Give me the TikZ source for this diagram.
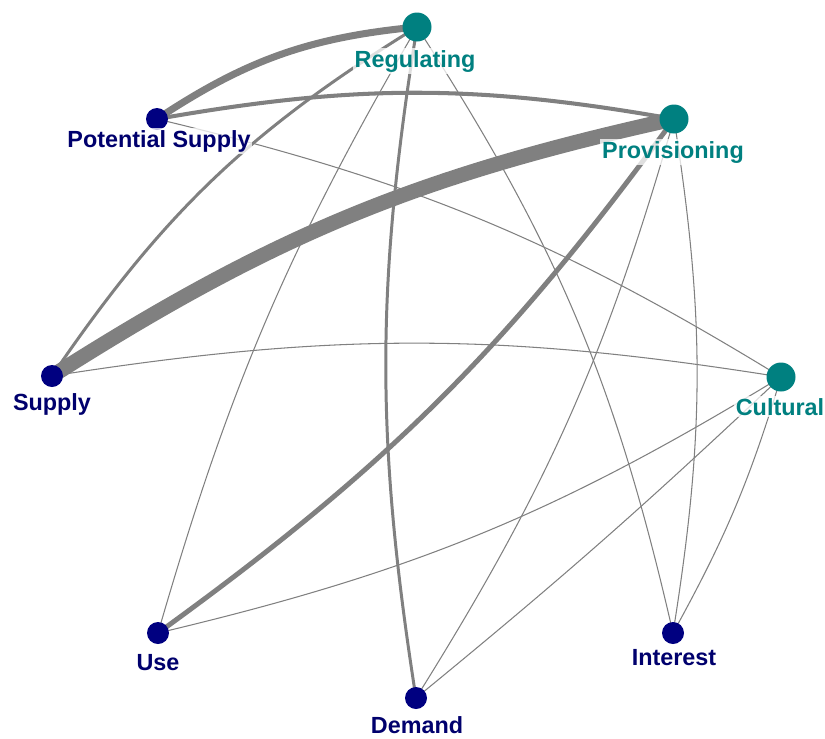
\documentclass[tikz,border=0pt]{standalone}
\usepackage{fontspec}
\setmainfont{Liberation Sans}
\usepackage{tikz}
\definecolor{servteal}{RGB}{0,128,128}
\definecolor{flownavy}{RGB}{0,0,128}
\definecolor{linkgray}{RGB}{128,128,128}
\tikzset{
servdot/.style={circle, fill=servteal, minimum size=0.58cm, inner sep=0pt}, % ecosystem service nodes
flowdot/.style={circle, fill=flownavy, minimum size=0.44cm, inner sep=0pt}, % flow nodes
servtext/.style={anchor=base, text=servteal, font=\fontsize{13.3}{16}\selectfont\bfseries,
  fill=white, fill opacity=0.75, text opacity=1, inner sep=1pt},
flowtext/.style={servtext, text=flownavy!85!black},
link/.style={draw=linkgray, line width=0.6pt}, % thin link, overwrite width for stronger ones
}

\begin{document}
\begin{tikzpicture}[x=0.02cm, y=-0.02cm]
    \useasboundingbox (0,0) rectangle (825,738);

    % positions on the circle
    \coordinate (reg) at (417,27);
    \coordinate (prov) at (674,119);
    \coordinate (cult) at (781,377);
    \coordinate (psup) at (157,119);
    \coordinate (sup) at (52,376);
    \coordinate (use) at (158,633);
    \coordinate (dem) at (416,698);
    \coordinate (int) at (673,633);

    % links
    \draw[link, line width=8.5pt] (sup) to[bend left=10] (prov);
    \draw[link, line width=4pt] (psup) to[bend left=14] (reg);
    \draw[link, line width=2.3pt] (psup) to[bend left=10] (prov);
    \draw[link] (psup) to[bend left=9] (cult);
    \draw[link, line width=1.7pt] (sup) to[bend left=12] (reg);
    \draw[link] (sup) to[bend left=9] (cult);
    \draw[link] (use) to[bend left=7] (reg);
    \draw[link, line width=2.8pt] (use) to[bend right=9] (prov);
    \draw[link] (use) to[bend right=9] (cult);
    \draw[link, line width=1.7pt] (dem) to[bend left=9] (reg);
    \draw[link] (dem) to[bend right=8] (prov);
    \draw[link] (dem) to[bend right=2] (cult);
    \draw[link] (reg) to[bend left=10] (int);
    \draw[link] (prov) to[bend left=9] (int);
    \draw[link] (cult) to[bend left=6] (int);

    % dots
    \node[servdot] (regdot) at (reg) {};
    \node[servdot] (provdot) at (prov) {};
    \node[servdot] (cultdot) at (cult) {};
    \node[flowdot] (psupdot) at (psup) {};
    \node[flowdot] (supdot) at (sup) {};
    \node[flowdot] (usedot) at (use) {};
    \node[flowdot] (demdot) at (dem) {};
    \node[flowdot] (intdot) at (int) {};

    % labels
    \node[servtext] (regtext) at (415,67) {Regulating};
    \node[servtext] (provtext) at (673,158) {Provisioning};
    \node[servtext] (culttext) at (780,415) {Cultural};
    \node[flowtext] (psuptext) at (159,147) {Potential Supply};
    \node[flowtext] (suptext) at (52,410) {Supply};
    \node[flowtext] (usetext) at (158,670) {Use};
    \node[flowtext] (demtext) at (417,733) {Demand};
    \node[flowtext] (inttext) at (674,665) {Interest};
\end{tikzpicture}
\end{document}
